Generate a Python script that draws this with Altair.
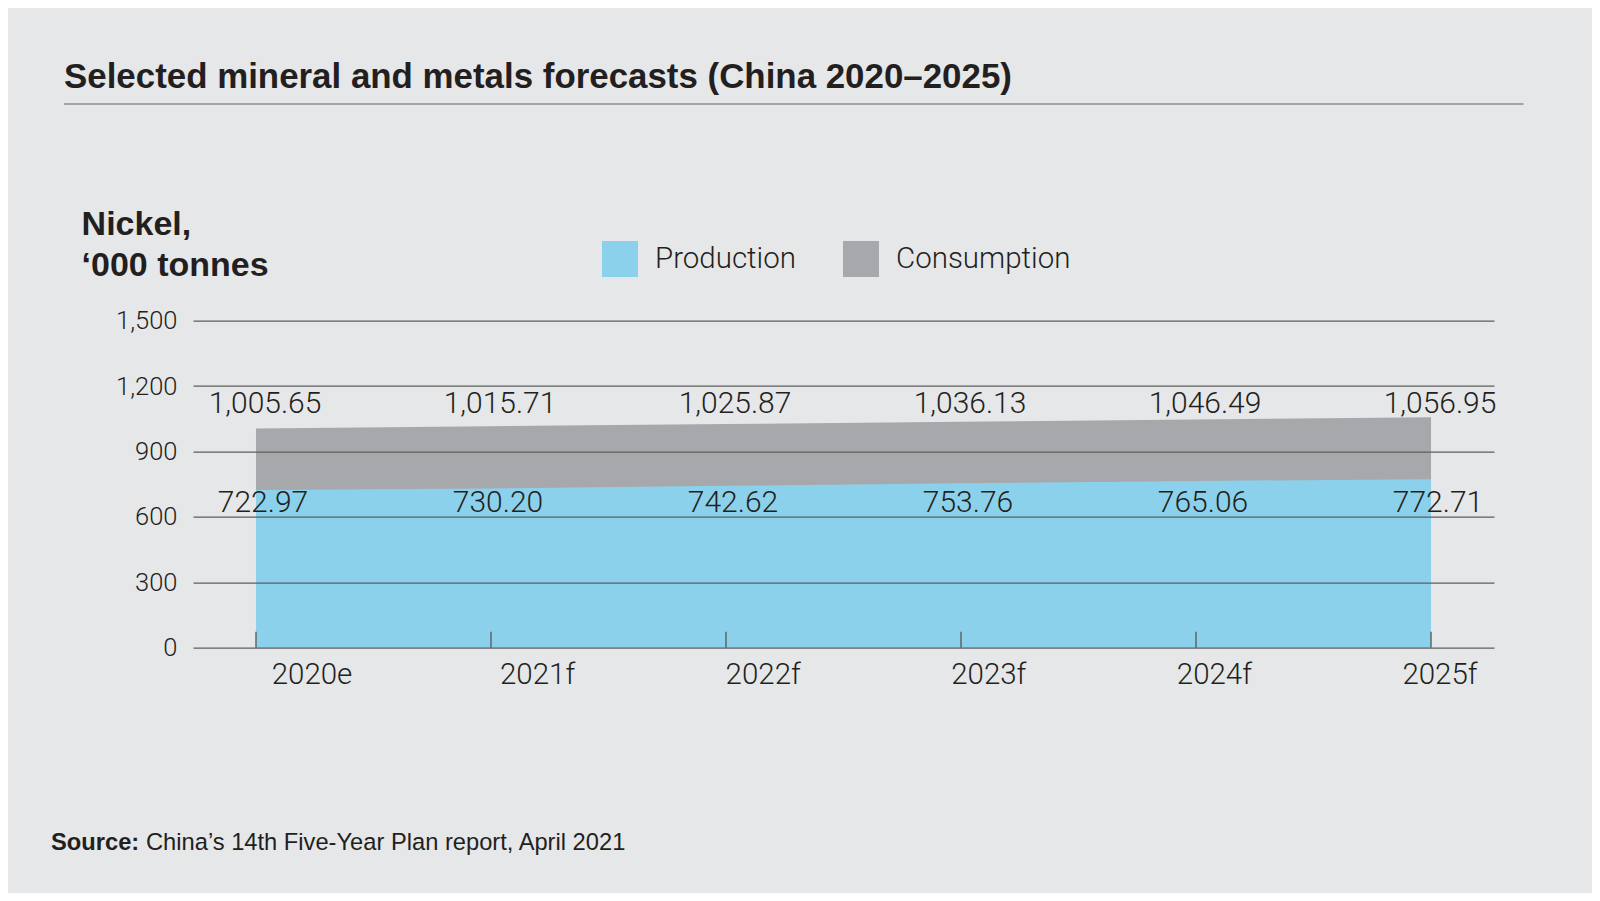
import altair as alt
import pandas as pd

# ---- data ----
years = [2020, 2021, 2022, 2023, 2024, 2025]
year_labels = ["2020e", "2021f", "2022f", "2023f", "2024f", "2025f"]
production = [722.97, 730.20, 742.62, 753.76, 765.06, 772.71]
consumption = [1005.65, 1015.71, 1025.87, 1036.13, 1046.49, 1056.95]
series_names = ["Production", "Consumption"]
series_colors = ["#8bd1ec", "#a7a8ab"]
y_ticks = [0, 300, 600, 900, 1200, 1500]

title_text = "Selected mineral and metals forecasts (China 2020\u20132025)"
unit_line1 = "Nickel,"
unit_line2 = "\u2018000 tonnes"
source_bold = "Source:"
source_text = "China\u2019s 14th Five-Year Plan report, April 2021"

rows = []
for yr, lab, p, c in zip(years, year_labels, production, consumption):
    rows.append(dict(year=yr, label=lab, series="Production", value=p))
    rows.append(dict(year=yr, label=lab, series="Consumption", value=c))
df = pd.DataFrame(rows)

W, H = 1301, 327
TXT = "#231f20"
LIGHT = "Roboto"

xs = alt.Scale(domain=[2019.732, 2025.268])
xlab = alt.Scale(domain=[2019.4725, 2025.2394])
ys = alt.Scale(domain=[0, 1500])

yaxis = alt.Axis(values=y_ticks, format=",.0f", grid=True, gridColor="#5e5e5e",
                 gridWidth=1.2, domain=False, ticks=False, labelFontSize=25.5,
                 labelFont=LIGHT, labelFontWeight=300, labelColor=TXT,
                 labelPadding=16, title=None, zindex=1)
yenc = alt.Y("value:Q", scale=ys, stack=None, axis=yaxis)
xenc = alt.X("year:Q", scale=xs, axis=None)

color = alt.Color(
    "series:N",
    scale=alt.Scale(domain=series_names, range=series_colors),
    legend=alt.Legend(title=None, orient="none", legendX=409, legendY=-79.7,
                      direction="horizontal", symbolType="square",
                      symbolSize=1296, symbolStrokeWidth=0, symbolOpacity=1,
                      labelFontSize=29.5, labelFont=LIGHT, labelFontWeight=300,
                      labelColor=TXT, labelOffset=17, columnPadding=46,
                      padding=0, labelLimit=400),
)

base = alt.Chart(df)
cons = base.transform_filter(alt.datum.series == "Consumption")
prod = base.transform_filter(alt.datum.series == "Production")

cons_area = cons.mark_area(opacity=1).encode(x=xenc, y=yenc, color=color)
prod_area = prod.mark_area(opacity=1).encode(x=xenc, y=yenc, color=color)

ticks = prod.mark_rule(color="#555555", strokeWidth=1.3).encode(
    x=xenc, y=alt.value(H - 16), y2=alt.value(H))

# value labels sit on a common row above each band
cons_lbl = cons.mark_text(dx=9, align="center", baseline="alphabetic",
                          fontSize=30, font=LIGHT, fontWeight=300, color=TXT).encode(
    x=xenc, y=alt.value(92.6), text=alt.Text("value:Q", format=",.2f"))
prod_lbl = prod.mark_text(dx=7, align="center", baseline="alphabetic",
                          fontSize=30, font=LIGHT, fontWeight=300, color=TXT).encode(
    x=xenc, y=alt.value(191.6), text=alt.Text("value:Q", format=",.2f"))

x_lbl = prod.mark_text(align="center", baseline="alphabetic", fontSize=29.5,
                       font=LIGHT, fontWeight=300, color=TXT).encode(
    x=alt.X("year:Q", scale=xlab, axis=None), y=alt.value(363.3), text="label:N")


def note(text, x, y, size, weight="normal", font="Liberation Sans"):
    return alt.Chart(pd.DataFrame({"t": [text]})).mark_text(
        align="left", baseline="alphabetic", fontSize=size, fontWeight=weight,
        font=font, color=TXT).encode(x=alt.value(x), y=alt.value(y), text="t:N")


title = note(title_text, -129, -233, 34.9, "bold")
unit1 = note(unit_line1, -111.4, -86, 34, "bold")
unit2 = note(unit_line2, -111.4, -44.2, 34, "bold")
src1 = note(source_bold, -142, 529, 23.7, "bold")
src2 = note(source_text, -47, 529, 23.7, "normal")

title_rule = alt.Chart(pd.DataFrame({"a": [0]})).mark_rule(
    color="#8c8c8c", strokeWidth=1.5).encode(
    x=alt.value(-129), x2=alt.value(1330.5), y=alt.value(-216.6))

chart = alt.layer(
    cons_area, prod_area, ticks, cons_lbl, prod_lbl, x_lbl,
    title, title_rule, unit1, unit2, src1, src2,
).resolve_scale(x="independent").properties(
    width=W, height=H,
    autosize=alt.AutoSizeParams(type="none"),
    padding={"left": 185, "top": 312.7, "right": 98, "bottom": 245},
    background="#e6e7e9",
).configure(font="Liberation Sans", view=alt.ViewConfig(stroke=None))

chart.save("out.html", embed_options={"renderer": "svg", "actions": False})
